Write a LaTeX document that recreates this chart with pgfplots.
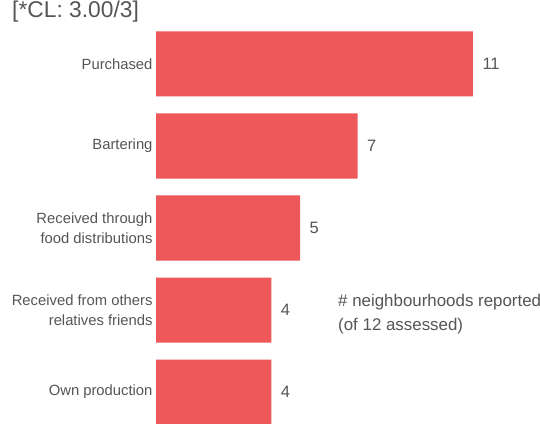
\documentclass[border=0pt]{standalone}
\usepackage{pgfplots}
\pgfplotsset{compat=1.18}
\usepackage{fontspec}
\setmainfont{Liberation Sans}
\definecolor{barred}{HTML}{EE5859}
\definecolor{txt}{HTML}{555555}
\begin{document}
\begin{tikzpicture}[x=1pt,y=1pt]
\useasboundingbox (0,0) rectangle (540,423);
\clip (0,0) rectangle (540,423);
\begin{axis}[
  at={(156pt,31pt)}, anchor=origin,
  scale only axis,
  width=374.6pt, height=401.8pt,
  xmin=0, xmax=13, ymin=-0.4, ymax=4.5,
  xbar, bar width=65pt, bar shift=0pt,
  axis line style={draw=none},
  hide x axis,
  ytick={0,1,2,3,4},
  yticklabels={Own production,{Received from others\\relatives friends},{Received through\\food distributions},Bartering,Purchased},
  yticklabel style={align=right, font=\fontsize{14.8}{20}\selectfont, text=txt, xshift=0pt},
  major tick length=0pt,
  y axis line style={draw=none},
  nodes near coords,
  nodes near coords style={font=\fontsize{16.5}{18}\selectfont, text=txt, xshift=6pt},
  /pgf/number format/assume math mode=true,
  point meta=x,
  clip=false,
]
\addplot[fill=barred, draw=none] coordinates {(4,0) (4,1) (5,2) (7,3) (11,4)};
\end{axis}
\node[anchor=base west, font=\fontsize{22.8}{24}\selectfont, text=txt, inner sep=0pt] at (12,405) {[*CL: 3.00/3]};
\node[anchor=north west, align=left, font=\fontsize{16.9}{24}\selectfont, text=txt, inner sep=0pt] at (338,129) {\# neighbourhoods reported\\(of 12 assessed)};
\end{tikzpicture}
\end{document}
